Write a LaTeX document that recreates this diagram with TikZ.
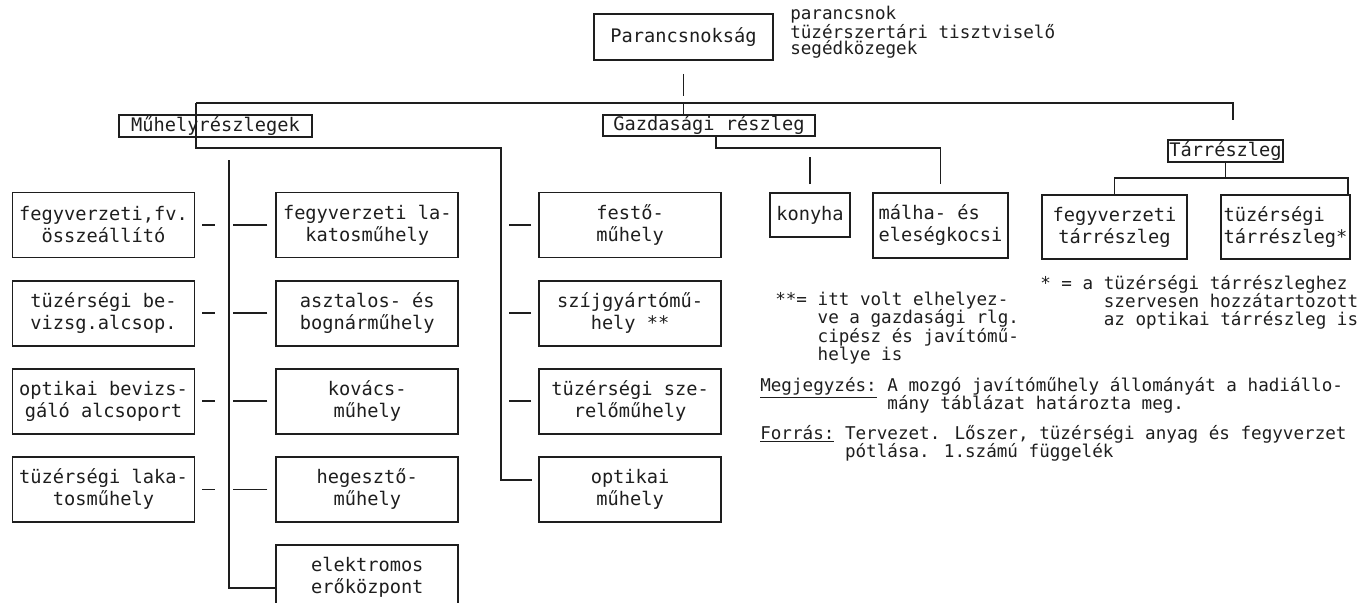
\documentclass[tikz,border=0pt]{standalone}
\usepackage{fontspec}
\setmainfont{DejaVu Sans Mono}
\usetikzlibrary{positioning,calc}
\definecolor{ink}{HTML}{1E1E1E}
\newcommand{\ul}[1]{\raisebox{0pt}[\height][0pt]{\underline{#1}}}
\tikzset{
  every node/.style={text=ink},
  box/.style={draw=ink,line width=1.35pt,align=center,inner sep=2pt,font=\fontsize{14}{16.5}\selectfont},
  colbox/.style={box,minimum width=136.5pt,minimum height=48.75pt},
  headbox/.style={box,inner sep=1pt,minimum height=16pt},
  leftbox/.style={box,align=left},
  link/.style={draw=ink,line width=1.35pt},
  note/.style={align=left,inner sep=0pt,font=\fontsize{13.2}{13.6}\selectfont},
}

\begin{document}
\begin{tikzpicture}[x=0.75pt,y=-0.75pt,node distance=16pt and 60pt]
\useasboundingbox (0,0) rectangle (1364,603);

% parancsnokság
\node[box,minimum width=134.25pt,minimum height=34.5pt] (cmd) at (683.5,37) {Parancsnokság};
\node[note,anchor=north west,font=\fontsize{13.2}{11.8}\selectfont] (staff) at (790,6) {parancsnok\\tüzérszertári tisztviselő\\segédközegek};

% részlegek
\node[headbox,minimum width=144.75pt] (muh) at (215.5,126) {Műhelyrészlegek};
\node[headbox,minimum width=159pt] (gazd) at (709,125.5) {Gazdasági részleg};
\node[headbox,minimum width=86.25pt] (tar) at (1225.5,151) {Tárrészleg};

\coordinate (busL) at (196,103);
\coordinate (busR) at (1233,103);
\coordinate (spA) at (229,160);
\coordinate (spB) at (501,148);

% műhelyek
\node[colbox] (l1) at (103.5,225) {fegyverzeti,fv.\\összeállító};
\node[colbox,below=of l1] (l2) {tüzérségi be-\\vizsg.alcsop.};
\node[colbox,below=of l2] (l3) {optikai bevizs-\\gáló alcsoport};
\node[colbox,below=of l3] (l4) {tüzérségi laka-\\tosműhely};

\node[colbox,right=80*0.75pt of l1] (m1) {fegyverzeti la-\\katosműhely};
\node[colbox,below=of m1] (m2) {asztalos- és\\bognárműhely};
\node[colbox,below=of m2] (m3) {kovács-\\műhely};
\node[colbox,below=of m3] (m4) {hegesztő-\\műhely};
\node[colbox,below=of m4] (m5) {elektromos\\erőközpont};

\node[colbox,right=79*0.75pt of m1] (r1) {festő-\\műhely};
\node[colbox,below=of r1] (r2) {szíjgyártómű-\\hely **};
\node[colbox,below=of r2] (r3) {tüzérségi sze-\\relőműhely};
\node[colbox,below=of r3] (r4) {optikai\\műhely};

% gazdasági
\node[leftbox,minimum width=60pt,minimum height=33pt] (konyha) at (810,215) {konyha};
\node[leftbox,minimum width=101.25pt,minimum height=48.75pt] (malha) at (940.5,225.5) {málha- és\\eleségkocsi};

% tár
\node[box,minimum width=108.75pt,minimum height=48pt] (ftar) at (1114.5,227) {fegyverzeti\\tárrészleg};
\node[leftbox,minimum width=96.75pt,minimum height=48pt] (ttar) at (1285.5,227) {tüzérségi\\tárrészleg*};

% lines
\draw[link] ([yshift=-9.75pt]cmd.south) -- ++(0,22);
\draw[link] (busL) -- (busR) -- ++(0,17);
\draw[link] (cmd.south |- busL) -- (cmd.south |- gazd.north);
\draw[link] (busL) |- (spB) |- ([xshift=-4.5pt,yshift=7pt]r4.west);
\draw[link] (spA) |- ([yshift=-8pt]m5.west);
\foreach \i in {1,...,4}{
  \draw[link] ([xshift=5.25pt]l\i.east) -- ++(13,0);
  \draw[link] ([xshift=-6pt]m\i.west) -- ++(-34,0);
}
\foreach \i in {1,2,3}
  \draw[link] ([xshift=-5.25pt]r\i.west) -- ++(-22,0);

\draw[link] ([xshift=5.25pt]gazd.south) |- ([yshift=33pt]malha.north) -- ([yshift=6pt]malha.north);
\draw[link] ([yshift=6pt]konyha.north) -- ++(0,-27);
\draw[link] (tar.south) -- ++(0,15) coordinate (tbus);
\draw[link] (ftar.north) |- (tbus) -| ([xshift=-2pt]ttar.north east);

% jegyzetek
\node[note,anchor=north west] (star) at (1040,275) {* = a tüzérségi tárrészleghez\\\phantom{* = a}\ szervesen hozzátartozott\\\phantom{* = a}\ az optikai tárrészleg is};
\node[note,anchor=north west] (dstar) at (775,292) {**= itt volt elhelyez-\\\phantom{**=}\ ve a gazdasági rlg.\\\phantom{**=}\ cipész és javítómű-\\\phantom{**=}\ helye is};
\node[note,anchor=north west] (megj) at (760,377) {\ul{Megjegyzés:} A mozgó javítóműhely állományát a hadiállo-\\\phantom{Megjegyzés:}\ mány táblázat határozta meg.};
\node[note,anchor=north west] (forras) at (760,425) {\ul{Forrás:} Tervezet. Lőszer, tüzérségi anyag és fegyverzet\\\phantom{Forrás:}\ pótlása. 1.számú függelék};
\end{tikzpicture}
\end{document}
